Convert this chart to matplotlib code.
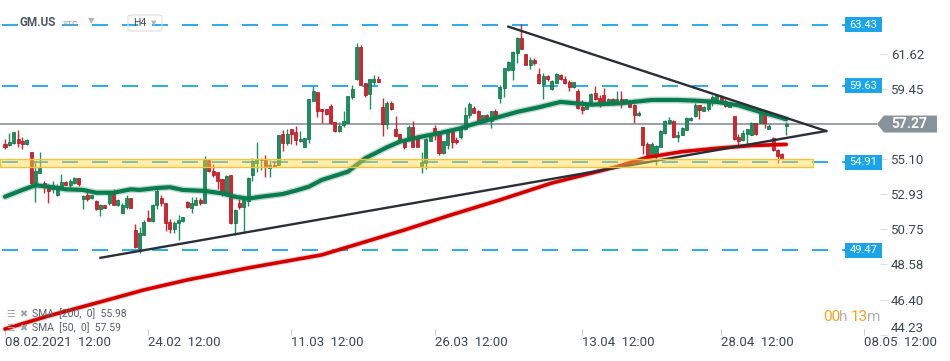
import numpy as np
import matplotlib
matplotlib.use('Agg')
import matplotlib.pyplot as plt
from matplotlib.patches import Rectangle, Polygon, FancyBboxPatch

plt.rcParams['font.family'] = ['Roboto', 'DejaVu Sans']
plt.rcParams['lines.scale_dashes'] = False

# H4 candles, GM.US
opens = [56.04, 55.99, 56.08, 56.33, 56.20, 56.04, 55.54, 53.64, 54.26, 53.60,
         53.52, 53.23, 52.90, 53.36, 53.68, 53.52, 53.60, 53.93, 52.65, 52.90,
         52.69, 52.53, 52.03, 52.24, 52.40, 52.94, 52.24, 51.78, 52.16, 52.69,
         50.71, 49.56, 50.42, 51.46, 51.29, 52.24, 52.69, 52.37, 51.21, 50.79,
         51.13, 51.25, 52.45, 52.07, 52.28, 52.57, 52.40, 55.05, 54.38, 54.30,
         53.85, 52.86, 54.10, 51.16, 52.37, 52.16, 52.53, 54.14, 54.84, 55.05,
         55.05, 54.55, 54.72, 54.76, 56.66, 56.12, 56.95, 56.78, 56.20, 55.87,
         56.33, 58.72, 59.26, 58.18, 58.18, 58.39, 57.40, 56.82, 57.19, 57.35,
         58.93, 60.04, 62.02, 59.79, 59.13, 59.87, 60.04, 58.31, 57.27, 58.56,
         56.95, 56.66, 56.28, 56.49, 57.11, 56.53, 54.59, 54.88, 56.24, 57.03,
         56.82, 55.46, 55.99, 56.82, 56.28, 56.45, 56.98, 57.81, 58.26, 58.10,
         57.48, 57.85, 57.48, 58.06, 58.88, 59.50, 60.62, 60.62, 61.65, 62.60,
         61.61, 60.95, 61.24, 60.37, 59.75, 60.25, 59.42, 59.83, 60.33, 60.04,
         59.87, 59.55, 59.30, 58.31, 58.22, 58.47, 59.17, 58.88, 59.05, 58.59,
         58.80, 58.59, 58.80, 58.59, 58.64, 58.47, 57.81, 57.07, 56.04, 55.34,
         55.34, 55.87, 56.70, 57.32, 57.44, 56.45, 56.61, 56.90, 57.52, 57.77,
         58.43, 58.10, 58.18, 58.64, 58.68, 58.93, 58.72, 58.35, 57.77, 56.45,
         56.28, 56.66, 56.61, 57.35, 57.35, 57.89, 56.99, 56.41, 55.67, 55.42,
         57.15]
highs = [56.33, 56.74, 56.80, 56.90, 56.45, 56.33, 55.56, 55.00, 55.54, 53.76,
         53.56, 53.76, 53.56, 54.18, 53.72, 53.85, 53.97, 53.95, 52.90, 53.23,
         52.90, 52.57, 52.32, 52.26, 53.11, 53.23, 52.65, 52.40, 52.86, 52.71,
         51.08, 50.88, 51.33, 51.95, 52.32, 53.23, 52.86, 52.40, 51.37, 51.29,
         51.62, 51.54, 52.49, 52.74, 52.77, 52.69, 55.29, 55.06, 54.80, 54.32,
         53.87, 54.14, 54.12, 52.03, 52.61, 52.77, 54.01, 55.17, 56.16, 55.17,
         55.34, 55.05, 54.97, 56.59, 56.90, 56.95, 56.98, 57.15, 56.82, 56.43,
         58.82, 59.63, 59.28, 58.20, 58.20, 58.51, 57.42, 57.40, 58.06, 59.03,
         59.67, 62.27, 62.18, 59.83, 60.06, 60.29, 60.25, 58.88, 58.68, 58.68,
         57.77, 56.68, 56.30, 57.19, 57.44, 56.57, 55.54, 56.38, 56.74, 57.19,
         56.84, 56.22, 56.84, 56.98, 56.49, 57.23, 58.35, 58.64, 58.39, 58.14,
         57.85, 57.89, 58.08, 58.18, 59.67, 60.76, 61.19, 61.81, 62.64, 63.46,
         61.63, 61.40, 61.36, 60.74, 60.41, 60.33, 60.00, 60.41, 60.37, 60.25,
         60.00, 59.89, 59.42, 58.76, 58.64, 59.21, 59.63, 59.05, 59.50, 58.88,
         58.88, 59.33, 59.33, 58.84, 58.76, 58.51, 58.06, 57.09, 56.16, 56.16,
         55.96, 56.90, 57.52, 57.73, 57.52, 56.86, 57.07, 57.69, 57.69, 58.56,
         58.47, 58.39, 58.80, 59.09, 59.13, 59.05, 58.93, 58.64, 57.77, 56.66,
         56.90, 56.98, 57.40, 57.35, 58.06, 58.06, 57.27, 56.45, 55.71, 55.46,
         57.40]
lows = [55.71, 55.91, 56.06, 55.87, 55.75, 55.99, 53.53, 52.46, 54.24, 52.98,
        52.37, 52.98, 52.82, 53.27, 53.48, 53.27, 53.56, 53.44, 52.03, 52.53,
        52.65, 51.95, 51.58, 52.05, 52.28, 52.24, 52.20, 51.78, 52.03, 52.05,
        49.62, 49.31, 50.40, 51.27, 51.21, 51.99, 52.20, 50.67, 50.51, 50.51,
        50.09, 51.21, 52.07, 51.78, 52.24, 52.28, 52.38, 54.30, 53.98, 53.27,
        52.82, 52.84, 51.08, 50.38, 52.03, 50.55, 52.20, 53.73, 54.30, 54.43,
        54.01, 53.97, 54.59, 54.74, 55.62, 55.99, 56.04, 55.96, 56.16, 55.85,
        56.12, 58.70, 57.73, 57.32, 57.81, 57.27, 56.80, 56.80, 57.07, 57.33,
        58.84, 60.02, 59.67, 58.96, 58.22, 59.71, 59.85, 56.53, 56.95, 58.16,
        56.51, 56.18, 55.71, 56.47, 55.85, 55.85, 54.22, 54.47, 56.22, 56.28,
        55.34, 55.42, 55.75, 55.79, 56.04, 56.36, 56.90, 57.65, 57.94, 57.40,
        57.44, 57.44, 57.03, 57.57, 58.59, 58.96, 60.57, 60.00, 61.03, 61.92,
        60.93, 60.70, 60.94, 59.77, 58.84, 59.95, 59.38, 59.79, 60.00, 59.75,
        59.30, 59.53, 58.22, 57.89, 58.18, 58.43, 58.76, 58.31, 58.56, 58.47,
        58.47, 58.55, 58.26, 58.55, 58.31, 57.32, 57.77, 55.42, 55.11, 55.21,
        54.74, 55.83, 56.66, 57.27, 56.45, 56.16, 56.57, 56.88, 57.48, 57.73,
        57.60, 58.06, 58.10, 58.39, 58.64, 58.59, 58.35, 58.31, 56.28, 55.83,
        56.24, 56.04, 56.61, 56.61, 57.35, 57.03, 56.95, 55.62, 54.84, 55.09,
        56.61]
closes = [55.87, 56.16, 56.78, 56.12, 56.04, 56.28, 53.64, 54.35, 54.55, 53.44,
          53.15, 53.48, 53.44, 53.68, 53.52, 53.76, 53.93, 53.56, 52.82, 52.61,
          52.86, 52.03, 52.24, 52.07, 52.98, 52.24, 52.57, 52.24, 52.69, 52.07,
          49.64, 50.51, 51.21, 51.29, 52.28, 53.11, 52.37, 51.13, 50.76, 51.16,
          51.33, 51.50, 52.12, 52.37, 52.57, 52.40, 55.05, 54.38, 54.14, 53.76,
          53.02, 54.06, 51.13, 51.95, 52.16, 52.61, 53.93, 54.97, 55.13, 55.13,
          54.59, 54.72, 54.63, 56.57, 56.12, 56.66, 56.66, 56.28, 56.33, 56.41,
          58.80, 59.30, 58.10, 58.06, 57.89, 57.32, 56.82, 57.15, 57.44, 59.01,
          59.46, 62.02, 59.71, 59.05, 60.04, 60.04, 59.87, 57.27, 58.56, 58.18,
          56.53, 56.20, 55.87, 57.11, 55.87, 55.87, 54.92, 56.36, 56.66, 56.74,
          55.46, 56.20, 56.82, 56.16, 56.16, 57.11, 57.81, 58.51, 57.97, 57.48,
          57.81, 57.60, 58.06, 57.65, 59.58, 60.74, 61.11, 61.73, 62.60, 61.94,
          60.95, 61.24, 61.03, 59.79, 60.25, 60.08, 59.92, 60.37, 60.08, 59.79,
          59.55, 59.87, 58.27, 58.14, 58.47, 59.13, 58.80, 58.56, 58.59, 58.80,
          58.59, 58.80, 58.64, 58.80, 58.35, 57.81, 57.97, 55.99, 55.23, 56.04,
          55.91, 56.82, 57.44, 57.52, 56.45, 56.61, 57.03, 57.65, 57.65, 58.47,
          58.14, 58.31, 58.72, 58.96, 59.05, 58.72, 58.39, 58.64, 56.33, 56.24,
          56.70, 56.95, 57.35, 56.66, 58.02, 57.32, 57.15, 55.67, 55.29, 55.13,
          57.27]

# moving averages (bar index, value)
sma50_x = [0, 4, 7, 10, 14, 18, 21, 25, 29, 31, 35, 38, 41, 46, 50, 53, 56, 59, 64,
           67, 70, 73, 79, 83, 88, 91, 96, 100, 105, 107, 112, 118, 123, 128, 130,
           135, 142, 149, 155, 159, 164, 169, 173, 178, 180]
sma50_y = [52.77, 53.19, 53.48, 53.39, 53.23, 53.19, 53.02, 53.02, 53.23, 53.19,
           53.31, 53.36, 53.19, 53.13, 52.98, 52.77, 52.65, 52.77, 52.94, 53.15,
           53.39, 53.81, 54.32, 55.15, 55.83, 56.18, 56.49, 56.70, 57.01, 57.19,
           57.57, 58.02, 58.31, 58.64, 58.59, 58.47, 58.56, 58.76, 58.76, 58.72,
           58.64, 58.43, 58.10, 57.73, 57.57]
sma200_x = [0, 10, 22, 32, 42, 56, 73, 92, 102, 114, 126, 141, 148, 156, 164, 172, 180]
sma200_y = [44.58, 45.39, 46.26, 47.00, 47.62, 48.36, 49.17, 50.71, 51.58, 52.57,
            53.62, 54.63, 55.21, 55.56, 55.77, 55.94, 56.01]

# triangle trendlines
lower_x, lower_y = [22, 189.2], [48.99, 56.84]
upper_x, upper_y = [116, 189.2], [63.30, 56.84]

levels = [63.43, 59.63, 54.91, 49.47]
zone = (54.59, 55.09)
last_price = 57.27
yticks = [44.23, 46.40, 48.58, 50.75, 52.93, 55.10, 59.45, 61.62]
xtick_pos = [0, 33, 66, 99, 133, 165, 198]
xtick_lab = ['08.02.2021  12:00', '24.02  12:00', '11.03  12:00', '26.03  12:00',
             '13.04  12:00', '28.04  12:00', '08.05  12:00']

GREEN, GREEN_E = '#17925f', '#0c6a44'
RED, RED_E = '#d8232f', '#a8121c'
BLUE = '#1aa5ea'

W, H = 950, 361
PX = 4.34  # pixels per bar
PT = 0.72  # points per pixel
fig = plt.figure(figsize=(W / 100, H / 100), dpi=100)
ax = fig.add_axes([0, (H - 335) / H, 887 / W, 335 / H])
xl, xr = -5 / PX, 882 / PX
ax.set_xlim(xl, xr)
ax.set_ylim(44.21, 64.95)
for s in ax.spines.values():
    s.set_visible(False)

o, h, l, c = map(np.array, (opens, highs, lows, closes))
idx = np.arange(len(o))
up = c >= o
col = np.where(up, GREEN, RED)
ecol = np.where(up, GREEN_E, RED_E)
ax.vlines(idx, l, h, colors=col, lw=1, zorder=3)
ax.bar(idx, np.maximum(np.abs(c - o), 0.07), bottom=np.minimum(o, c), width=0.7,
       color=col, edgecolor=ecol, linewidth=0.5, zorder=4)

# levels
x_lab0 = (845 - 5) / PX
x_lab1 = (882 - 5) / PX
dash = (28 * PT, (16 * PT, 14 * PT))
ax.hlines(levels, xl, x_lab0, colors=BLUE, lw=1.3, linestyles=[dash], zorder=1)
ax.hlines(last_price, xl, (877 - 5) / PX, colors='#85929a', lw=1.2, zorder=2)

# sma lines
ax.plot(sma50_x, sma50_y, color='#0b7c4f', lw=5, alpha=0.25, solid_capstyle='round', zorder=5)
ax.plot(sma50_x, sma50_y, color='#0b7c4f', lw=3, solid_capstyle='round', zorder=5)
ax.plot(sma200_x, sma200_y, color='#ff4040', lw=4, alpha=0.25, solid_capstyle='round', zorder=5)
ax.plot(sma200_x, sma200_y, color='#d40000', lw=2.6, solid_capstyle='round', zorder=5)

ax.plot(lower_x, lower_y, color='#2a2e35', lw=1.7, zorder=6)
ax.plot(upper_x, upper_y, color='#2a2e35', lw=1.7, zorder=6)

ax.add_patch(Rectangle((xl, zone[0]), (813 - 5) / PX - xl, zone[1] - zone[0],
                       facecolor=(1.0, 0.85, 0.28, 0.45), edgecolor='#f0c43c', lw=1, zorder=7))

# level boxes on the right
bh = 15 / 16.15
for v in levels:
    ax.add_patch(Rectangle((x_lab0, v - bh / 2), x_lab1 - x_lab0, bh, facecolor=BLUE,
                           edgecolor='none', zorder=8, clip_on=False))
    ax.text((x_lab0 + x_lab1) / 2, v, f'{v:.2f}', color='white', fontsize=8,
            ha='center', va='center', zorder=9, clip_on=False)

# last price arrow label
ah = 17 / 16.15 / 2
pts = [((877 - 5) / PX, last_price), ((884 - 5) / PX, last_price + ah),
       ((937 - 5) / PX, last_price + ah), ((937 - 5) / PX, last_price - ah),
       ((884 - 5) / PX, last_price - ah)]
ax.add_patch(Polygon(pts, closed=True, facecolor='#87939a', edgecolor='none',
                     zorder=8, clip_on=False))
ax.text((909 - 5) / PX, last_price, f'{last_price:.2f}', color='white', fontsize=10,
        fontweight='bold', ha='center', va='center', zorder=9, clip_on=False)

# axes ticks
ax.yaxis.tick_right()
ax.set_yticks(yticks)
ax.set_yticklabels([f'{v:.2f}' for v in yticks])
ax.tick_params(axis='y', direction='in', length=5, color='#dddddd', labelsize=9.5,
               labelcolor='#3d4650', pad=3)
ax.get_yticklabels()[0].set_va('bottom')
ax.set_xticks(xtick_pos)
ax.set_xticklabels(xtick_lab)
ax.tick_params(axis='x', direction='in', length=4, color='#cccccc', labelsize=9.5,
               labelcolor='#3d4650', pad=0.5)
for t in ax.get_xticklabels():
    t.set_ha('left')

# header
def fx(x):
    return x / W

def fy(y):
    return 1 - y / H

fig.text(fx(20), fy(23), 'GM.US', fontsize=8.5, fontweight='bold', color='#4b5660',
         va='center', bbox=dict(facecolor='white', edgecolor='none', pad=1))
fig.text(fx(63), fy(24), 'STC', fontsize=6, color='#8d99a3', va='center')
fig.text(fx(88), fy(21), '▼', fontsize=6, color='#b5b5b5', va='center',
         family=['DejaVu Sans'])
fig.patches.append(FancyBboxPatch((fx(128), fy(31)), fx(34), 16 / H,
                                  boxstyle='round,pad=0,rounding_size=0.004',
                                  facecolor='none', edgecolor='#dcdcdc', lw=0.8,
                                  transform=fig.transFigure))
fig.text(fx(133), fy(23), 'H4', fontsize=7.5, color='#444c55', va='center')
fig.text(fx(151), fy(23), '▼', fontsize=5, color='#b5b5b5', va='center',
         family=['DejaVu Sans'])

# indicator legend
for y, lab in [(314, 'SMA  [200,  0]  55.98'), (328, 'SMA  [50,  0]  57.59')]:
    fig.text(fx(6), fy(y), '☰', fontsize=7, color='#a0a4a8', va='center',
             family=['DejaVu Sans'])
    fig.text(fx(19), fy(y), '✖', fontsize=7, color='#a0a4a8', va='center',
             family=['DejaVu Sans'])
    fig.text(fx(32), fy(y), lab, fontsize=7.5, color='#5a6068', va='center')

# countdown
for x, s, cl in [(823, '00', '#f5a21f'), (839, 'h', '#b4b4b4'),
                 (851, '13', '#f5a21f'), (867, 'm', '#b4b4b4')]:
    fig.text(fx(x), fy(317), s, fontsize=11, color=cl, va='center')

fig.savefig('out.png', dpi=100)
